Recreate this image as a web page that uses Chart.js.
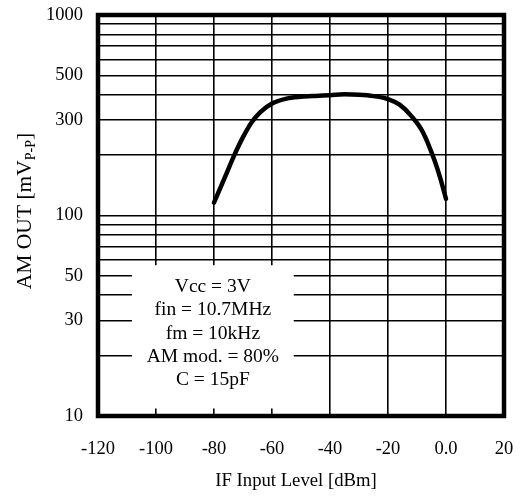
<!DOCTYPE html>
<html>
<head>
<meta charset="utf-8">
<script src="https://cdn.jsdelivr.net/npm/chart.js@4/dist/chart.umd.min.js"></script>
<style>
  html, body { margin: 0; padding: 0; background: #fff; }
  #wrap { width: 525px; height: 497px; position: relative; }
</style>
</head>
<body>
<div id="wrap"><canvas id="c" width="525" height="497"></canvas></div>
<script>
// ---- data ----
const ifInputLevel = [-80, -76, -73, -70, -67, -64, -60, -55, -50, -45, -40, -35, -30, -25, -20, -16, -12, -8, -4, -2, 0];
const amOutMv      = [116, 158, 200, 246, 292, 328, 362, 383, 391, 395, 398, 402, 400, 394, 381, 357, 314, 261, 189, 154, 121];
const xTickValues  = [-120, -100, -80, -60, -40, -20, 0, 20];
const yGridValues  = [10, 20, 30, 40, 50, 60, 70, 80, 90, 100, 200, 300, 400, 500, 600, 700, 800, 900, 1000];
const yTickLabels  = [10, 30, 50, 100, 300, 500, 1000];
const conditionLines = ['Vcc = 3V', 'fin = 10.7MHz', 'fm = 10kHz', 'AM mod. = 80%', 'C = 15pF'];
const xTitle = 'IF Input Level [dBm]';
const yTitleMain = 'AM OUT [mV';
const yTitleSub = 'P-P';
const yTitleEnd = ']';

const FONT = '"Liberation Serif", "Times New Roman", serif';

const overlay = {
  id: 'overlay',
  beforeDatasetsDraw(chart) {
    const ctx = chart.ctx;
    const xs = chart.scales.x, ys = chart.scales.y;
    // white condition box (covers grid lines)
    const bx0 = xs.getPixelForValue(-108.3), bx1 = xs.getPixelForValue(-52.5);
    const by0 = ys.getPixelForValue(56.5), by1 = ys.getPixelForValue(10.9);
    ctx.save();
    ctx.fillStyle = '#fff';
    ctx.fillRect(bx0, by0, bx1 - bx0, by1 - by0);
    ctx.fillStyle = '#000';
    ctx.font = '19.5px ' + FONT;
    ctx.textAlign = 'center';
    ctx.textBaseline = 'alphabetic';
    const cx = (bx0 + bx1) / 2;
    conditionLines.forEach((t, i) => ctx.fillText(t, cx, 292 + i * 23.3));
    ctx.restore();
  },
  afterDatasetsDraw(chart) {
    const ctx = chart.ctx;
    const a = chart.chartArea;
    ctx.save();
    ctx.strokeStyle = '#000';
    ctx.lineWidth = 4.5;
    ctx.strokeRect(a.left, a.top, a.right - a.left, a.bottom - a.top);
    // axis titles
    ctx.fillStyle = '#000';
    ctx.font = '18.7px ' + FONT;
    ctx.textAlign = 'center';
    ctx.textBaseline = 'middle';
    ctx.fillText(xTitle, 296, 481);
    // y title rotated with subscript
    ctx.translate(25, 211);
    ctx.rotate(-Math.PI / 2);
    ctx.textAlign = 'left';
    ctx.textBaseline = 'alphabetic';
    const big = '21.5px ' + FONT, small = '14px ' + FONT;
    ctx.font = big;
    const w1 = ctx.measureText(yTitleMain).width;
    const w3 = ctx.measureText(yTitleEnd).width;
    ctx.font = small;
    const w2 = ctx.measureText(yTitleSub).width;
    const total = w1 + w2 + w3;
    let x = -total / 2;
    const base = 6;
    ctx.font = big;
    ctx.fillText(yTitleMain, x, base); x += w1;
    ctx.font = small;
    ctx.fillText(yTitleSub, x, base + 4); x += w2;
    ctx.font = big;
    ctx.fillText(yTitleEnd, x, base);
    ctx.restore();
  }
};

new Chart(document.getElementById('c'), {
  type: 'line',
  data: {
    datasets: [{
      data: ifInputLevel.map((v, i) => ({ x: v, y: amOutMv[i] })),
      borderColor: '#000',
      borderWidth: 4.5,
      pointRadius: 0,
      fill: false,
      cubicInterpolationMode: 'monotone',
      borderCapStyle: 'round',
      borderJoinStyle: 'round'
    }]
  },
  options: {
    responsive: false,
    animation: false,
    devicePixelRatio: 1,
    layout: { padding: { top: 15, right: 21, left: 0, bottom: 0 } },
    plugins: { legend: { display: false }, tooltip: { enabled: false } },
    scales: {
      x: {
        type: 'linear',
        min: -120, max: 20,
        afterBuildTicks(scale) { scale.ticks = xTickValues.map(v => ({ value: v })); },
        afterFit(scale) {
          scale.height = 81;
          scale.paddingLeft = 0; scale.paddingRight = 0;
          scale.paddingTop = 0; scale.paddingBottom = 0;
        },
        grid: { color: '#000', lineWidth: 1.6, drawTicks: false },
        border: { display: false },
        ticks: {
          color: '#000',
          font: { family: FONT, size: 18.5 },
          padding: 22,
          maxRotation: 0,
          autoSkip: false,
          callback: (v) => (v === 0 ? '0.0' : String(v))
        }
      },
      y: {
        type: 'logarithmic',
        min: 10, max: 1000,
        afterBuildTicks(scale) { scale.ticks = yGridValues.map(v => ({ value: v })); },
        afterFit(scale) {
          scale.width = 98;
          scale.paddingLeft = 0; scale.paddingRight = 0;
          scale.paddingTop = 0; scale.paddingBottom = 0;
        },
        grid: { color: '#000', lineWidth: 1.6, drawTicks: false },
        border: { display: false },
        ticks: {
          color: '#000',
          font: { family: FONT, size: 18.5 },
          padding: 15,
          autoSkip: false,
          callback: (v) => (yTickLabels.includes(v) ? String(v) : '')
        }
      }
    }
  },
  plugins: [overlay]
});
</script>
</body>
</html>
